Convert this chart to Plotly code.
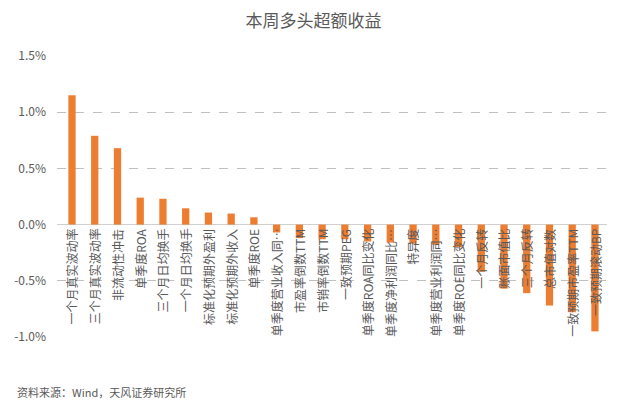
import plotly.graph_objects as go

# 因子名称（图上显示的截断文字）
factors = [
    "一个月真实波动率", "三个月真实波动率", "非流动性冲击", "单季度ROA",
    "三个月日均换手", "一个月日均换手", "标准化预期外盈利", "标准化预期外收入",
    "单季度ROE", "单季度营业收入同…", "市盈率倒数TTM", "市销率倒数TTM",
    "一致预期PEG", "单季度ROA同比变化", "单季度净利润同比…", "特异度",
    "单季度营业利润同…", "单季度ROE同比变化", "一个月反转", "账面市值比",
    "三个月反转", "总市值对数", "一致预期市盈率TTM", "一致预期滚动BP",
]

# 本周多头超额收益（%）
excess_ret = [
    1.15, 0.79, 0.68, 0.24,
    0.23, 0.145, 0.107, 0.098,
    0.065, -0.07, -0.12, -0.13,
    -0.13, -0.15, -0.16, -0.17,
    -0.18, -0.20, -0.42, -0.57,
    -0.61, -0.72, -0.78, -0.95,
]

y_ticks = [-1.0, -0.5, 0.0, 0.5, 1.0, 1.5]
y_ticktext = ["-1.0%", "-0.5%", "0.0%", "0.5%", "1.0%", "1.5%"]

FONT = "Noto Sans CJK SC"
GRAY = "#595959"
x_idx = list(range(len(factors)))

fig = go.Figure()
fig.add_trace(go.Bar(
    x=x_idx,
    y=excess_ret,
    marker=dict(color="#ED7D31", line_width=0),
    width=0.32,
    hovertemplate="%{y:.2f}%<extra></extra>",
))

fig.update_layout(
    width=627, height=415,
    margin=dict(l=57, r=20, t=56, b=78),
    paper_bgcolor="white",
    plot_bgcolor="white",
    showlegend=False,
    font=dict(family=FONT, color=GRAY, size=12),
    title=dict(
        text="本周多头超额收益",
        x=0.5, xanchor="center",
        y=1 - 21 / 415, yanchor="middle",
        font=dict(size=17, color=GRAY, family=FONT),
    ),
    xaxis=dict(
        range=[-0.66, 23.53],
        showticklabels=False,
        showgrid=False,
        showline=False,
        zeroline=False,
        ticks="",
        automargin=False,
    ),
    yaxis=dict(
        range=[-1.0, 1.5],
        tickvals=y_ticks,
        ticktext=y_ticktext,
        showgrid=True,
        gridcolor="#c0c0c0",
        griddash="dash",
        gridwidth=1,
        zeroline=True,
        zerolinecolor="#d0d0d0",
        zerolinewidth=1,
        showline=False,
        ticks="",
        ticklabelstandoff=10,
        tickfont=dict(size=12, color=GRAY),
        automargin=False,
    ),
    bargap=0.68,
)

# 分类标签：竖排放在 0 轴下方，压在柱子上
for i, name in zip(x_idx, factors):
    fig.add_annotation(
        x=i, y=0, xref="x", yref="y",
        text=name,
        textangle=-90,
        xanchor="center", yanchor="top",
        yshift=-2,
        showarrow=False,
        font=dict(size=12, color=GRAY, family=FONT),
    )

fig.add_annotation(
    text="资料来源：Wind，天风证券研究所",
    xref="paper", yref="paper",
    x=-42 / 550, y=-55 / 281,
    xanchor="left", yanchor="middle",
    showarrow=False,
    font=dict(size=11, color=GRAY, family=FONT),
)

fig.write_html(
    "out.html",
    config={"displayModeBar": False},
    post_script="document.body.style.margin='0';",
)
